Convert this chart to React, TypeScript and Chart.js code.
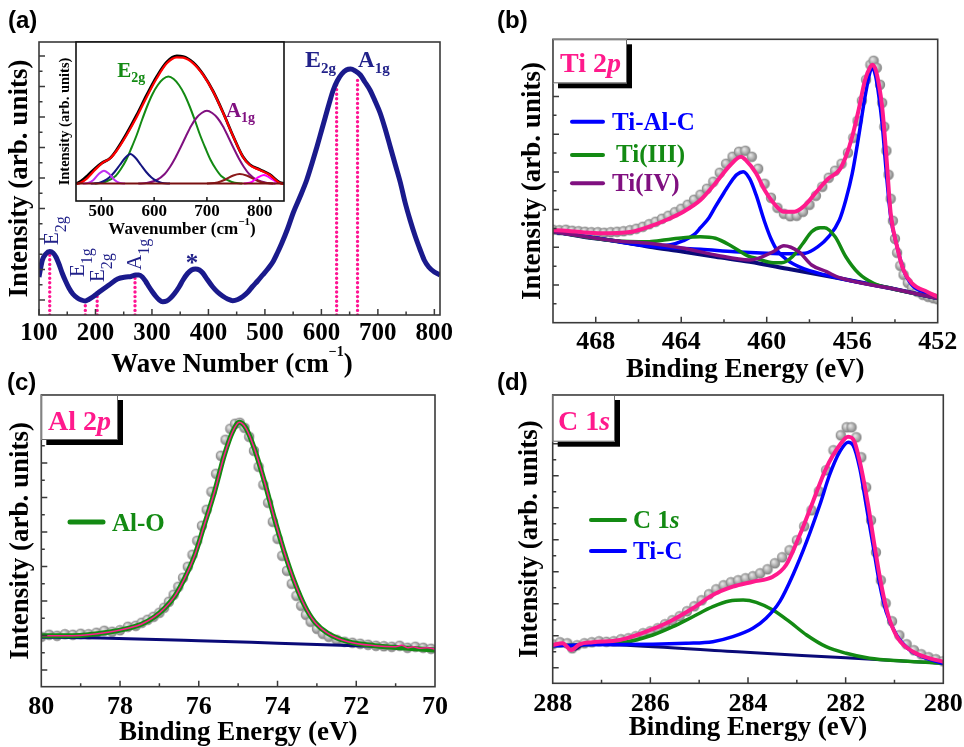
import React, { useEffect, useRef } from "react";
import { Chart, registerables } from "chart.js";
Chart.register(...registerables);

type P = [number, number];

// ---------------- (a) Raman spectrum (x: wavenumber cm-1, y: arb.) ----------------
const ramanIntensity: P[] = [
  [100, 38], [106, 55], [112, 61], [119, 63.5], [125, 62], [130, 58], [136, 50], [141, 42],
  [147, 34], [153, 27], [160, 21], [168, 17], [175, 15], [182, 14], [188, 15.5], [195, 18],
  [202, 21], [209, 24], [224, 30], [239, 36], [254, 38], [263, 38.5], [271, 40], [277, 40],
  [283, 38], [289, 33.5], [295, 28], [301, 23], [307, 18.5], [313, 15], [319, 13.3], [326, 14],
  [333, 17], [340, 21.5], [348, 28], [355, 35], [363, 41.5], [370, 45], [377, 46], [384, 45],
  [390, 42], [398, 35.5], [407, 28.5], [416, 23], [425, 19], [434, 16], [443, 14.3], [452, 15.5],
  [461, 18.5], [470, 23], [478, 28.5], [487, 34], [496, 40], [505, 46], [514, 53], [522, 62],
  [530, 72], [540, 86], [550, 102], [562, 118], [574, 135], [583, 151], [592, 168], [600, 184],
  [607, 198], [614, 212], [621, 225], [628, 234], [636, 241], [644, 245], [652, 246], [660, 244],
  [669, 240], [677, 233], [686, 225], [695, 214], [704, 202], [713, 186], [722, 168], [731, 150],
  [740, 132], [748, 113], [757, 95], [766, 79], [775, 65], [782, 55], [790, 48], [800, 43], [810, 40],
];
// Raman mode positions (wavenumber, top of dotted marker)
const ramanModes: P[] = [[119, 63], [182, 14], [203, 22], [270, 40], [627, 231], [664, 237.5]];
const ramanXLabels = [100, 200, 300, 400, 500, 600, 700, 800];
const ramanXMinor = [150, 250, 350, 450, 550, 650, 750];
const ramanYMajor = [15, 45.5, 76, 106.5, 137, 167.5, 198, 228.5, 259];
const ramanYMinor = [30.25, 60.75, 91.25, 121.75, 152.25, 182.75, 213.25, 243.75];

// ---------------- (a) inset: deconvolution ----------------
const insetMeasured: P[] = [
  [453, 17.5], [462, 20], [475, 26], [488, 32.5], [501, 38], [517, 43], [530, 52], [548, 67.5],
  [567, 86], [586, 106], [605, 124.5], [624, 139], [643, 145], [655, 144.5], [674, 138.5],
  [693, 126.5], [712, 109.5], [731, 88], [750, 64.5], [768, 44.5], [781, 36.5], [800, 31.5],
  [819, 26.5], [838, 18.5], [846, 17.5],
];
const insetFit: P[] = [
  [453, 17], [460, 18], [473, 22.7], [486, 30], [501, 37.7], [517, 42.7], [530, 51], [548, 66],
  [567, 84], [586, 104], [605, 122.7], [624, 137.7], [643, 143.7], [655, 143.3], [674, 137.7],
  [693, 126], [712, 109.3], [731, 87.7], [750, 64.3], [768, 44.3], [781, 36], [800, 31],
  [819, 26], [838, 18], [846, 17],
];
const insetE2g: P[] = [
  [487, 17.5], [507, 19], [527, 25], [537, 32], [547, 41], [557, 53], [567, 66], [577, 81],
  [587, 95], [597, 107], [607, 116], [617, 122], [627, 124.5], [637, 122], [647, 116], [657, 107],
  [667, 95], [677, 81], [687, 66], [697, 53], [707, 41], [717, 32], [727, 25], [747, 19], [767, 17.5],
];
const insetA1g: P[] = [
  [570, 17.5], [585, 18], [605, 21], [620, 27], [630, 34], [640, 43], [650, 53.5], [660, 64.5],
  [670, 75], [680, 83], [690, 88], [700, 90.3], [710, 88], [720, 83], [730, 75], [740, 64.5],
  [750, 53.5], [760, 43], [770, 34], [780, 27], [795, 21], [815, 18], [830, 17.5],
];
const insetPeak555: P[] = [
  [480, 17.5], [495, 18], [505, 20], [515, 23.5], [525, 29], [535, 36], [545, 43], [555, 47],
  [565, 43], [575, 36], [585, 29], [595, 23.5], [605, 20], [615, 18], [630, 17.5],
];
const insetPeak505: P[] = [[465, 17.5], [475, 18], [485, 21], [495, 27], [505, 30.3], [515, 27], [525, 21], [535, 18], [545, 17.5]];
const insetPeak762: P[] = [[700, 17.5], [720, 18.5], [735, 21.5], [750, 25.5], [762, 27], [775, 25.5], [790, 21.5], [805, 18.5], [825, 17.5]];
const insetPeak808: P[] = [[770, 17.5], [785, 19], [795, 23], [808, 26], [820, 23], [832, 19], [846, 17.5]];
const insetBaseline: P[] = [[452, 17.5], [846, 17.5]];
const insetXLabels = [500, 600, 700, 800];

// ---------------- (b) Ti 2p (binding energy eV) ----------------
const tiData: P[] = [
  [470.0, 93], [469.7, 92.5], [469.4, 93], [469.1, 92], [468.8, 91.5], [468.5, 91], [468.2, 90.5],
  [467.9, 90.5], [467.6, 90], [467.3, 90.5], [467.0, 91], [466.7, 91.5], [466.4, 92.5], [466.1, 94],
  [465.8, 96], [465.5, 98.5], [465.2, 101], [464.9, 104], [464.6, 107], [464.3, 110.5], [464.0, 114],
  [463.7, 118], [463.4, 123], [463.1, 128], [462.8, 134], [462.5, 141], [462.2, 150], [461.9, 159],
  [461.6, 166], [461.3, 171], [461.0, 172], [460.7, 166], [460.4, 154], [460.1, 139], [459.8, 125],
  [459.5, 115], [459.2, 109], [458.9, 106.5], [458.6, 107], [458.3, 111], [458.0, 118], [457.7, 127],
  [457.4, 136], [457.1, 145], [456.8, 152], [456.5, 159], [456.2, 170], [455.95, 185], [455.75, 202],
  [455.55, 222], [455.35, 243], [455.15, 258], [455.0, 262], [454.85, 255], [454.7, 238], [454.6, 220],
  [454.5, 196], [454.4, 172], [454.3, 148], [454.2, 124], [454.1, 102], [454.0, 84], [453.9, 70],
  [453.75, 57], [453.6, 48], [453.4, 40], [453.2, 35], [452.95, 31], [452.7, 28], [452.45, 26],
  [452.2, 24.5], [452.0, 23.5],
];
const tiEnvelope: P[] = [
  [470, 92.7], [469.4, 92], [467.9, 89.4], [466.3, 91], [465.5, 96], [464.7, 102.7], [463.9, 111],
  [463.1, 122.7], [462.4, 139.4], [461.7, 157.7], [461.2, 166], [461.0, 163], [460.5, 149.4],
  [460.1, 132.7], [459.6, 117.7], [459.2, 111], [458.7, 111], [458.2, 117.7], [457.6, 132.7],
  [457.1, 144.4], [456.6, 152.7], [456.3, 166], [456.0, 186], [455.7, 212.7], [455.4, 242.7],
  [455.15, 256], [455.05, 258], [454.9, 252.7], [454.75, 238], [454.6, 216], [454.4, 166],
  [454.2, 109.4], [453.9, 76], [453.6, 52.7], [453.2, 39.4], [452.5, 31], [452, 26],
];
const tiBackground: P[] = [
  [470, 91], [468.6, 86], [467.1, 81.7], [465.5, 76], [463.9, 71], [462.4, 66], [460.8, 61],
  [458.9, 53.4], [456.6, 44.4], [454.2, 34.4], [452, 24.4],
];
const tiAlC_2p12: P[] = [
  [470, 91], [467.1, 81.7], [465.5, 77], [464.5, 78], [463.9, 82], [463.4, 88], [463.1, 95],
  [462.7, 105], [462.4, 116], [462.0, 130], [461.7, 140], [461.4, 148], [461.1, 151], [460.8, 144],
  [460.5, 128], [460.1, 101], [459.8, 84], [459.5, 72], [459.0, 62], [458.5, 56], [458.0, 52],
  [456.6, 44.4], [454.2, 34.4], [452, 24.4],
];
const tiAlC_2p32: P[] = [
  [470, 91], [467.1, 81.7], [465.5, 76.5], [464.5, 75], [463.1, 73.5], [461.5, 71], [460, 69.5],
  [459, 69], [458.2, 69.5], [457.6, 76], [457.1, 86], [456.6, 102.7], [456.3, 122.7], [456.0, 149],
  [455.7, 186], [455.4, 226], [455.15, 252], [455.05, 255], [454.9, 246], [454.75, 226], [454.6, 199],
  [454.4, 149], [454.2, 106], [453.9, 76], [453.6, 52.7], [453.2, 37.7], [452.5, 29.4], [452, 24.4],
];
const tiIII: P[] = [
  [470, 91], [467.1, 82], [465.5, 81], [464.7, 83], [463.9, 85], [463.1, 86], [462.4, 84.4],
  [461.6, 76], [460.8, 66], [460.5, 64.4], [459.7, 60], [459.3, 60], [458.8, 66], [458.3, 79.4],
  [457.9, 91], [457.5, 95], [457.3, 95], [456.8, 86], [456.3, 66], [455.7, 49.4], [455.0, 39.4],
  [454.2, 34.4], [452, 24.4],
];
const tiIV: P[] = [
  [470, 91], [467.1, 82], [465.5, 79.4], [463.9, 74.4], [462.4, 67.7], [460.8, 62.7], [460.4, 64.4],
  [459.7, 71], [459.2, 77], [458.5, 71], [457.9, 57.7], [457.2, 51], [456.6, 45], [454.2, 34.4], [452, 24.4],
];
const tiXLabels = [468, 464, 460, 456, 452];
const tiXMajor = [468, 464, 460, 456];
const tiXMinor = [466, 462, 458, 454];
const tiYMajor = [37.7, 75.4, 113.1, 150.8, 188.5, 226.2, 263.9];
const tiYMinor = [18.85, 56.55, 94.25, 131.95, 169.65, 207.35, 245.05];

// ---------------- (c) Al 2p ----------------
const alData: P[] = [
  [80.0, 50], [79.8, 52], [79.6, 51], [79.4, 52.5], [79.2, 52], [79.0, 53], [78.8, 52.5], [78.6, 54],
  [78.4, 56], [78.2, 55], [78.0, 56.5], [77.8, 60], [77.6, 61], [77.45, 64], [77.3, 67], [77.15, 70],
  [77.0, 74], [76.88, 79], [76.76, 85], [76.64, 92], [76.52, 100], [76.4, 109], [76.28, 120],
  [76.16, 132], [76.04, 146], [75.92, 161], [75.8, 177], [75.68, 195], [75.56, 213], [75.44, 231],
  [75.32, 247], [75.2, 258], [75.08, 263], [74.96, 264], [74.84, 259], [74.72, 250], [74.6, 236],
  [74.48, 220], [74.36, 202], [74.24, 184], [74.12, 165], [74.0, 148], [73.88, 131], [73.76, 116],
  [73.64, 103], [73.52, 91], [73.4, 81], [73.28, 72], [73.16, 65], [73.0, 58], [72.85, 53], [72.7, 50],
  [72.5, 47], [72.3, 45], [72.1, 44], [71.9, 43], [71.7, 42], [71.5, 41], [71.3, 40.5], [71.1, 40],
  [70.9, 41], [70.7, 39], [70.5, 40], [70.3, 39], [70.1, 38],
];
const alOFit: P[] = [
  [80, 51], [79.2, 51], [78.3, 54.4], [77.8, 58.4], [77.46, 62.4], [77.12, 70], [76.87, 78.4],
  [76.62, 90], [76.36, 108.4], [76.1, 131.7], [75.86, 161.7], [75.6, 195], [75.35, 231.7],
  [75.14, 255], [74.97, 264.4], [74.8, 258.4], [74.59, 238.4], [74.33, 205], [74.08, 168.4],
  [73.83, 135], [73.57, 105], [73.32, 81.7], [73.06, 65], [72.72, 53.4], [72.21, 45], [71.53, 41],
  [70.68, 38.4], [69.96, 36.7],
];
const alEnvelope: P[] = [
  [80, 51], [79.2, 51], [78.3, 54.4], [77.8, 58.4], [77.46, 62.4], [77.12, 70], [76.87, 78.4],
  [76.62, 90], [76.36, 108.4], [76.1, 131.7], [75.86, 161.7], [75.6, 195], [75.35, 231.7],
  [75.14, 255], [74.97, 264.4], [74.8, 258.4], [74.59, 238.4], [74.33, 205], [74.08, 168.4],
  [73.83, 135], [73.57, 105], [73.32, 81.7], [73.06, 65], [72.72, 53.4], [72.21, 45], [71.53, 41],
  [71.0, 40], [70.85, 41.5], [70.7, 39], [70.55, 40], [70.4, 38.5], [70.2, 39], [70, 37.5],
];
const alBackground: P[] = [
  [80, 49.5], [79, 49], [78.5, 48.7], [76, 46], [74, 43.5], [72, 41], [71.2, 40], [71.0, 40.5],
  [70.8, 38.5], [70.6, 39.5], [70.4, 37.5], [70.2, 38], [70, 37],
];
const alXLabels = [80, 78, 76, 74, 72, 70];
const alXMajor = [78, 76, 74, 72];
const alXMinor = [79, 77, 75, 73, 71];
const alYMajor = [16.7, 51.2, 85.7, 120.2, 154.7, 189.2, 223.7, 258.2];
const alYMinor = [34, 68.5, 103, 137.5, 172, 206.5, 241, 275.5];

// ---------------- (d) C 1s ----------------
const cData: P[] = [
  [288.0, 39], [287.85, 41], [287.7, 40], [287.6, 35], [287.5, 38], [287.35, 40], [287.2, 41],
  [287.05, 42], [286.9, 41.5], [286.75, 42], [286.6, 44], [286.45, 45], [286.3, 47], [286.15, 50],
  [286.0, 52], [285.85, 55], [285.7, 59], [285.55, 63], [285.4, 67], [285.25, 72], [285.1, 77],
  [284.95, 83], [284.8, 89], [284.65, 94], [284.5, 98], [284.35, 101], [284.2, 103], [284.05, 105],
  [283.9, 107], [283.75, 110], [283.6, 114], [283.45, 120], [283.3, 126], [283.15, 133], [283.0, 143],
  [282.85, 157], [282.7, 173], [282.55, 192], [282.4, 213], [282.25, 233], [282.1, 248], [281.98, 256],
  [281.88, 256], [281.78, 246], [281.68, 226], [281.58, 196], [281.48, 163], [281.38, 131],
  [281.28, 103], [281.18, 80], [281.05, 62], [280.9, 48], [280.75, 39], [280.6, 33], [280.45, 29],
  [280.3, 26], [280.15, 24], [280.0, 22],
];
const cEnvelope: P[] = [
  [288, 38.3], [287.8, 40], [287.62, 33.3], [287.45, 39], [287.18, 41], [286.63, 43.3], [286.09, 51.6],
  [285.61, 61.6], [285.13, 75], [284.72, 88.3], [284.31, 96.6], [283.9, 101.6], [283.49, 106.6],
  [283.22, 118.3], [282.94, 148.3], [282.67, 181.6], [282.4, 215], [282.12, 238.3], [281.95, 246.6],
  [281.82, 241.6], [281.68, 215], [281.54, 178.3], [281.41, 138.3], [281.27, 98.3], [281.13, 68.3],
  [280.93, 45], [280.62, 31.6], [280.28, 25], [280, 21.6],
];
const cTiC: P[] = [
  [288, 37.5], [287.32, 38.5], [285.95, 39], [285.27, 40], [284.72, 41.6], [284.31, 46.6], [283.9, 55],
  [283.63, 65], [283.35, 81.6], [283.08, 108.3], [282.8, 141.6], [282.53, 178.3], [282.33, 208.3],
  [282.12, 231.6], [281.95, 241], [281.85, 238.3], [281.71, 215], [281.58, 178.3], [281.44, 138.3],
  [281.3, 98.3], [281.17, 71.6], [280.96, 48.3], [280.69, 33.3], [280.34, 25], [280, 20],
];
const cC1s: P[] = [
  [288, 37.5], [287.1, 39], [286.63, 40], [285.95, 48.3], [285.54, 56.6], [285.13, 66.6], [284.72, 76.6],
  [284.38, 82.3], [284.1, 83.3], [283.83, 81], [283.49, 73.3], [283.15, 61.6], [282.8, 48.3],
  [282.4, 36.6], [281.99, 30], [281.51, 25], [280.83, 22.3], [280, 20],
];
const cBackground: P[] = [
  [288, 37.5], [287.8, 38.5], [287.65, 35], [287.55, 34], [287.4, 38], [287.1, 39], [286.63, 38.3],
  [284.04, 31], [282, 25.5], [280, 20],
];
const cXLabels = [288, 286, 284, 282, 280];
const cXMajor = [286, 284, 282];
const cXMinor = [287, 285, 283, 281];
const cYMajor = [15.6, 47.6, 79.6, 111.6, 143.6, 175.6, 207.6, 239.6, 271.6];
const cYMinor = [31.6, 63.6, 95.6, 127.6, 159.6, 191.6, 223.6, 255.6];

// ---------------- styling / helpers ----------------
const SERIF = '"Liberation Serif", "Times New Roman", serif';
const SANS = '"Liberation Sans", Arial, sans-serif';
const PINK = "#ff1a8c";
const BLUE = "#0000ff";
const GREEN = "#138a13";
const PURPLE = "#801080";
const NAVY = "#0a0a78";
const LABEL_NAVY = "#22228a";
const W = 964;
const H = 747;

let sphereCache: HTMLCanvasElement | null = null;
function sphere(): HTMLCanvasElement {
  if (sphereCache) return sphereCache;
  const c = document.createElement("canvas");
  const r = 5.2;
  c.width = 12;
  c.height = 12;
  const g = c.getContext("2d")!;
  const grad = g.createRadialGradient(4.5, 4.3, 0.5, 6, 6, r);
  grad.addColorStop(0, "#e6e6e6");
  grad.addColorStop(0.55, "#b0b0b0");
  grad.addColorStop(1, "#7c7c7c");
  g.fillStyle = grad;
  g.beginPath();
  g.arc(6, 6, r, 0, Math.PI * 2);
  g.fill();
  sphereCache = c;
  return c;
}

const xy = (a: P[]) => a.map(([x, y]) => ({ x, y }));
const line = (a: P[], color: string, width: number, extra: any = {}) => ({
  data: xy(a), borderColor: color, borderWidth: width, pointRadius: 0, fill: false,
  cubicInterpolationMode: "monotone", clip: 0, borderJoinStyle: "round", ...extra,
});
const dots = (a: P[]) => ({
  data: xy(a), showLine: false, pointRadius: 5, pointStyle: sphere(), clip: 0,
});

type Run = { t: string; size: number; w?: string; i?: boolean; dy?: number };
const runFont = (r: Run) => `${r.i ? "italic " : ""}${r.w ?? "bold"} ${r.size}px ${SERIF}`;
function drawRuns(ctx: CanvasRenderingContext2D, runs: Run[], x: number, y: number, color: string, align = "left") {
  ctx.save();
  ctx.fillStyle = color;
  ctx.textAlign = "left";
  ctx.textBaseline = "alphabetic";
  let total = 0;
  for (const r of runs) { ctx.font = runFont(r); total += ctx.measureText(r.t).width; }
  let cx = align === "center" ? x - total / 2 : x;
  for (const r of runs) {
    ctx.font = runFont(r);
    ctx.fillText(r.t, cx, y + (r.dy ?? 0));
    cx += ctx.measureText(r.t).width;
  }
  ctx.restore();
}
function panelLetter(ctx: CanvasRenderingContext2D, t: string, x: number, y: number) {
  ctx.save();
  ctx.font = `bold 24px ${SANS}`;
  ctx.fillStyle = "#000";
  ctx.fillText(t, x, y);
  ctx.restore();
}
function tagBox(ctx: CanvasRenderingContext2D, x1: number, y1: number, x2: number, y2: number, runs: Run[], tx: number, ty: number) {
  ctx.save();
  ctx.fillStyle = "#000";
  ctx.fillRect(x1 + 5, y1 + 5, x2 - x1, y2 - y1);
  ctx.fillStyle = "#fff";
  ctx.fillRect(x1, y1, x2 - x1, y2 - y1);
  ctx.strokeStyle = "#666";
  ctx.lineWidth = 1;
  ctx.strokeRect(x1 + 0.5, y1 + 0.5, x2 - x1 - 1, y2 - y1 - 1);
  ctx.restore();
  drawRuns(ctx, runs, tx, ty, PINK);
}
function legendItem(ctx: CanvasRenderingContext2D, x1: number, x2: number, ly: number, color: string, runs: Run[], tx: number, ty: number, lw = 4) {
  ctx.save();
  ctx.strokeStyle = color;
  ctx.lineWidth = lw;
  ctx.lineCap = "round";
  ctx.beginPath();
  ctx.moveTo(x1, ly);
  ctx.lineTo(x2, ly);
  ctx.stroke();
  ctx.restore();
  drawRuns(ctx, runs, tx, ty, color);
}

type Spec = {
  area: [number, number, number, number];
  yW: number; xH: number;
  xMin: number; xMax: number; reverse: boolean; yMax: number;
  xLabels: number[]; xMajor: number[]; xMinor: number[]; yMajor: number[]; yMinor: number[];
  tickSize: number; tickPad: number; majorLen: number; minorLen: number;
  xTitle: string | null; yTitle: string; titleSize: number; yTitleSize: number;
  datasets: any[];
  draw?: (chart: any) => void;
  whiteBg?: boolean;
  frameColor?: string;
};

function makeChart(canvas: HTMLCanvasElement, s: Spec) {
  const [l, t, r, b] = s.area;
  const decor = {
    id: "decor",
    beforeDraw(chart: any) {
      if (!s.whiteBg) return;
      const a = chart.chartArea;
      const ctx = chart.ctx;
      ctx.save();
      ctx.fillStyle = "#fff";
      ctx.fillRect(a.left, a.top, a.right - a.left, a.bottom - a.top);
      ctx.restore();
    },
    afterDraw(chart: any) {
      const { ctx, chartArea: a, scales } = chart;
      const x = scales.x, y = scales.y;
      ctx.save();
      ctx.strokeStyle = s.frameColor ?? "#3a3a3a";
      ctx.lineWidth = 1.5;
      ctx.beginPath();
      for (const v of s.xMajor) { const px = x.getPixelForValue(v); ctx.moveTo(px, a.bottom); ctx.lineTo(px, a.bottom - s.majorLen); }
      for (const v of s.xMinor) { const px = x.getPixelForValue(v); ctx.moveTo(px, a.bottom); ctx.lineTo(px, a.bottom - s.minorLen); }
      for (const v of s.yMajor) { const py = y.getPixelForValue(v); ctx.moveTo(a.left, py); ctx.lineTo(a.left + s.majorLen, py); }
      for (const v of s.yMinor) { const py = y.getPixelForValue(v); ctx.moveTo(a.left, py); ctx.lineTo(a.left + s.minorLen, py); }
      ctx.stroke();
      ctx.lineWidth = 1.6;
      ctx.strokeRect(a.left, a.top, a.right - a.left, a.bottom - a.top);
      ctx.restore();
      if (s.draw) s.draw(chart);
    },
  };
  const cfg: any = {
    type: "line",
    data: { datasets: s.datasets },
    options: {
      responsive: false,
      maintainAspectRatio: false,
      animation: false,
      devicePixelRatio: 1,
      events: [],
      layout: {
        autoPadding: false,
        padding: { left: l - s.yW, top: t, right: W - r, bottom: H - b - s.xH },
      },
      plugins: { legend: { display: false }, tooltip: { enabled: false } },
      scales: {
        x: {
          type: "linear", min: s.xMin, max: s.xMax, reverse: s.reverse,
          grid: { display: false, drawTicks: false }, border: { display: false },
          ticks: {
            color: "#000", padding: s.tickPad, maxRotation: 0, minRotation: 0, autoSkip: false,
            font: { family: SERIF, size: s.tickSize, weight: "bold", lineHeight: 1 },
            callback: (v: any) => String(v),
          },
          title: {
            display: !!s.xTitle, text: s.xTitle ?? "", color: "#000", padding: 0,
            font: { family: SERIF, size: s.titleSize, weight: "bold", lineHeight: 1 },
          },
          afterBuildTicks: (sc: any) => { sc.ticks = s.xLabels.map((v) => ({ value: v })); },
          afterFit: (sc: any) => { sc.height = s.xH; sc.paddingLeft = 0; sc.paddingRight = 0; sc.paddingTop = 0; sc.paddingBottom = 0; },
        },
        y: {
          type: "linear", min: 0, max: s.yMax,
          grid: { display: false, drawTicks: false }, border: { display: false },
          ticks: { display: false },
          title: {
            display: true, text: s.yTitle, color: "#000", padding: 0,
            font: { family: SERIF, size: s.yTitleSize, weight: "bold", lineHeight: 1 },
          },
          afterFit: (sc: any) => { sc.width = s.yW; sc.paddingLeft = 0; sc.paddingRight = 0; sc.paddingTop = 0; sc.paddingBottom = 0; },
        },
      },
    },
    plugins: [decor],
  };
  return new Chart(canvas, cfg);
}

// ---------------- panel builders ----------------
const modeLabelAnchors: [string, string, number, number][] = [
  ["E", "2g", 121.6, 70], ["E", "1g", 166.8, 38], ["E", "2g", 202.3, 33], ["A", "1g", 268, 45],
];

const buildA = (c: HTMLCanvasElement) =>
  makeChart(c, {
    area: [39, 42, 440, 315], yW: 32.5, xH: 40,
    xMin: 100, xMax: 810, reverse: false, yMax: 273,
    xLabels: ramanXLabels, xMajor: ramanXLabels, xMinor: ramanXMinor, yMajor: ramanYMajor, yMinor: ramanYMinor,
    tickSize: 25, tickPad: 6.5, majorLen: 6, minorLen: 3.5,
    xTitle: null, yTitle: "Intensity (arb. units)", titleSize: 27, yTitleSize: 27,
    datasets: [
      line(ramanIntensity, "#1a1a8c", 5),
      ...ramanModes.map(([wn, top]) =>
        line([[wn, 0], [wn, top]], "#ff1493", 3.4, { cubicInterpolationMode: "default", tension: 0, borderDash: [0, 4.6], borderCapStyle: "round" })
      ),
    ],
    draw: (chart) => {
      const { ctx, scales: { x, y } } = chart;
      const X = (v: number) => x.getPixelForValue(v);
      const Y = (v: number) => y.getPixelForValue(v);
      drawRuns(ctx, [{ t: "E", size: 24 }, { t: "2g", size: 15, dy: 6 }], X(571), Y(248), LABEL_NAVY);
      drawRuns(ctx, [{ t: "A", size: 23 }, { t: "1g", size: 15, dy: 6 }], X(665), Y(248), LABEL_NAVY);
      for (const [m, sub, wn, h] of modeLabelAnchors) {
        ctx.save();
        ctx.translate(X(wn) + 7, Y(h));
        ctx.rotate(-Math.PI / 2);
        drawRuns(ctx, [{ t: m, size: 21, w: "normal" }, { t: sub, size: 16, w: "normal", dy: 8 }], 0, 0, LABEL_NAVY);
        ctx.restore();
      }
      ctx.save();
      ctx.font = `bold 25px ${SERIF}`;
      ctx.fillStyle = LABEL_NAVY;
      ctx.textAlign = "center";
      ctx.fillText("*", X(371), Y(57) + 13);
      ctx.restore();
      drawRuns(ctx, [{ t: "Wave Number (cm", size: 27 }, { t: "−1", size: 14, dy: -16 }, { t: ")", size: 27 }], 232, 372, "#000", "center");
      panelLetter(ctx, "(a)", 8, 28);
    },
  });

const buildInset = (c: HTMLCanvasElement) =>
  makeChart(c, {
    area: [76, 42, 284, 201], yW: 18.25, xH: 22,
    xMin: 452, xMax: 846, reverse: false, yMax: 159,
    xLabels: insetXLabels, xMajor: insetXLabels, xMinor: [], yMajor: [], yMinor: [],
    tickSize: 17, tickPad: 2, majorLen: 4, minorLen: 2,
    xTitle: null, yTitle: "Intensity (arb. units)", titleSize: 17, yTitleSize: 14.5,
    whiteBg: true, frameColor: "#111",
    datasets: [
      line(insetBaseline, "#7a1010", 2, { cubicInterpolationMode: "default", tension: 0 }),
      line(insetFit, "#ff0000", 2.2),
      line(insetMeasured, "#000000", 2.8),
      line(insetPeak808, "#ff00ff", 2),
      line(insetPeak762, "#8b1a1a", 2),
      line(insetPeak505, "#c030f0", 2),
      line(insetPeak555, "#141480", 2),
      line(insetA1g, "#801080", 2),
      line(insetE2g, "#138a13", 2),
    ],
    draw: (chart) => {
      const { ctx, scales: { x, y } } = chart;
      drawRuns(ctx, [{ t: "E", size: 21 }, { t: "2g", size: 14, dy: 5 }], x.getPixelForValue(530), y.getPixelForValue(124), GREEN);
      drawRuns(ctx, [{ t: "A", size: 21 }, { t: "1g", size: 14, dy: 5 }], x.getPixelForValue(736), y.getPixelForValue(83.7), PURPLE);
      drawRuns(ctx, [{ t: "Wavenumber (cm", size: 17 }, { t: "−1", size: 11, dy: -9 }, { t: ")", size: 17 }], 182, 234, "#000", "center");
    },
  });

const buildB = (c: HTMLCanvasElement) =>
  makeChart(c, {
    area: [553, 39.3, 937.7, 322.7], yW: 33.5, xH: 61.3,
    xMin: 452, xMax: 470, reverse: true, yMax: 283.4,
    xLabels: tiXLabels, xMajor: tiXMajor, xMinor: tiXMinor, yMajor: tiYMajor, yMinor: tiYMinor,
    tickSize: 26, tickPad: 6.5, majorLen: 6, minorLen: 3.5,
    xTitle: "Binding Energy (eV)", yTitle: "Intensity (arb. units)", titleSize: 27, yTitleSize: 27,
    datasets: [
      line(tiEnvelope, PINK, 4),
      line(tiIV, PURPLE, 3.5),
      line(tiIII, GREEN, 3.5),
      line(tiAlC_2p32, BLUE, 3.5),
      line(tiAlC_2p12, BLUE, 3.5),
      line(tiBackground, NAVY, 4),
      dots(tiData),
    ],
    draw: (chart) => {
      const ctx = chart.ctx;
      tagBox(ctx, 553, 39.3, 627, 83.3, [{ t: "Ti 2", size: 28 }, { t: "p", size: 28, i: true }], 560, 72);
      legendItem(ctx, 572, 603, 121.7, BLUE, [{ t: "Ti-Al-C", size: 25 }], 612, 130);
      legendItem(ctx, 572, 603, 155, GREEN, [{ t: "Ti(III)", size: 25 }], 616, 162);
      legendItem(ctx, 572, 603, 183.3, PURPLE, [{ t: "Ti(IV)", size: 25 }], 612, 190.5);
      panelLetter(ctx, "(b)", 497, 28);
    },
  });

const buildC = (c: HTMLCanvasElement) =>
  makeChart(c, {
    area: [41.3, 395, 435, 686.7], yW: 33.8, xH: 60.3,
    xMin: 70, xMax: 80, reverse: true, yMax: 291.7,
    xLabels: alXLabels, xMajor: alXMajor, xMinor: alXMinor, yMajor: alYMajor, yMinor: alYMinor,
    tickSize: 26, tickPad: 7.5, majorLen: 6, minorLen: 3.5,
    xTitle: "Binding Energy (eV)", yTitle: "Intensity (arb. units)", titleSize: 27, yTitleSize: 27,
    datasets: [
      line(alEnvelope, PINK, 1.5),
      line(alOFit, GREEN, 5),
      line(alBackground, NAVY, 3),
      dots(alData),
    ],
    draw: (chart) => {
      const ctx = chart.ctx;
      tagBox(ctx, 41.3, 395, 118, 440, [{ t: "Al 2", size: 28 }, { t: "p", size: 28, i: true }], 48, 430);
      legendItem(ctx, 70, 103, 522, GREEN, [{ t: "Al-O", size: 25 }], 112, 531, 5);
      panelLetter(ctx, "(c)", 7, 390);
    },
  });

const buildD = (c: HTMLCanvasElement) =>
  makeChart(c, {
    area: [552.7, 395, 943.3, 683.3], yW: 36.2, xH: 58.7,
    xMin: 280, xMax: 288, reverse: true, yMax: 288.3,
    xLabels: cXLabels, xMajor: cXMajor, xMinor: cXMinor, yMajor: cYMajor, yMinor: cYMinor,
    tickSize: 26, tickPad: 8, majorLen: 6, minorLen: 3.5,
    xTitle: "Binding Energy (eV)", yTitle: "Intensity (arb. units)", titleSize: 27, yTitleSize: 27,
    datasets: [
      line(cEnvelope, PINK, 4),
      line(cTiC, BLUE, 3.5),
      line(cC1s, GREEN, 3.5),
      line(cBackground, NAVY, 3),
      dots(cData),
    ],
    draw: (chart) => {
      const ctx = chart.ctx;
      tagBox(ctx, 552.7, 395, 615, 441.7, [{ t: "C 1", size: 28 }, { t: "s", size: 28, i: true }], 558, 430);
      legendItem(ctx, 591, 625, 520, GREEN, [{ t: "C 1", size: 25 }, { t: "s", size: 25, i: true }], 633, 528);
      legendItem(ctx, 591, 625, 551, BLUE, [{ t: "Ti-C", size: 25 }], 633, 559);
      panelLetter(ctx, "(d)", 497, 390);
    },
  });

function ChartCanvas({ build }: { build: (c: HTMLCanvasElement) => Chart }) {
  const ref = useRef<HTMLCanvasElement>(null);
  useEffect(() => {
    if (!ref.current) return;
    const ch = build(ref.current);
    return () => ch.destroy();
  }, [build]);
  return (
    <canvas
      ref={ref}
      width={W}
      height={H}
      style={{ position: "absolute", left: 0, top: 0, width: W, height: H }}
    />
  );
}

export default function App() {
  return (
    <div style={{ position: "absolute", left: 0, top: 0, width: W, height: H, background: "#fff", overflow: "hidden" }}>
      <ChartCanvas build={buildA} />
      <ChartCanvas build={buildInset} />
      <ChartCanvas build={buildB} />
      <ChartCanvas build={buildC} />
      <ChartCanvas build={buildD} />
    </div>
  );
}
